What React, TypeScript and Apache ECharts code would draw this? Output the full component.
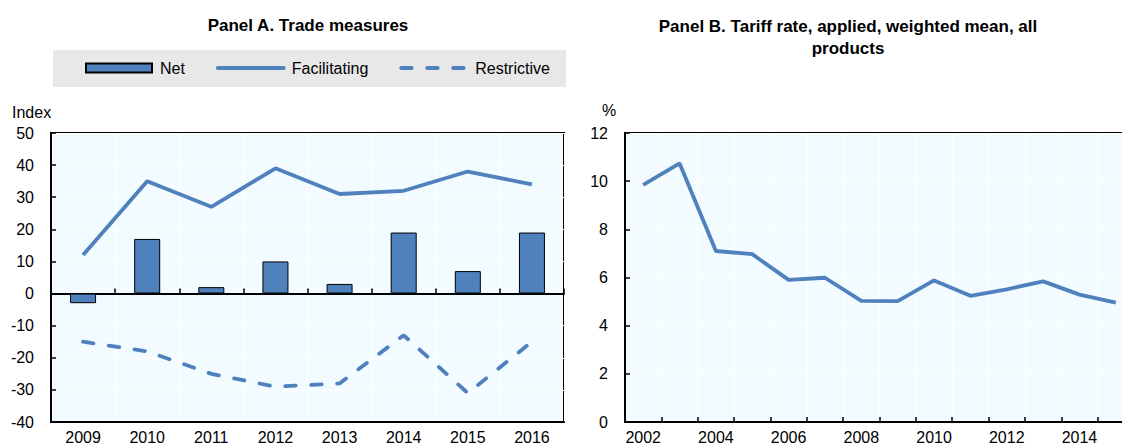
import React, { useEffect, useRef } from "react";
import * as echarts from "echarts";

const yearsA = ["2009", "2010", "2011", "2012", "2013", "2014", "2015", "2016"];
const netValues = [-3, 17, 2, 10, 3, 19, 7, 19];
const facilitatingValues = [12, 35, 27, 39, 31, 32, 38, 34];
const restrictiveValues = [-15, -18, -25, -29, -28, -13, -31, -15];

const yearsB = ["2002", "2003", "2004", "2005", "2006", "2007", "2008", "2009", "2010", "2011", "2012", "2013", "2014", "2015"];
const tariffValues = [9.85, 10.74, 7.1, 6.97, 5.9, 5.99, 5.03, 5.02, 5.88, 5.24, 5.51, 5.84, 5.29, 4.96];

const FONT = "'Liberation Sans', Arial, sans-serif";
const BLUE = "#4f81bd";
const BG = "#f2fbff";
const LINE_W = 3.8;

export default function App() {
  const ref = useRef<HTMLDivElement>(null);
  useEffect(() => {
    if (!ref.current) return;
    const chart = echarts.init(ref.current, undefined, { renderer: "svg" });
    const axisLabel = { color: "#000", fontSize: 16, fontFamily: FONT };
    const yAxisBase = {
      type: "value",
      axisLine: { show: true, lineStyle: { color: "#000", width: 2 } },
      axisTick: { show: true, inside: true, length: 5, lineStyle: { color: "#000", width: 1.5 } },
      splitLine: { show: true, lineStyle: { color: "#ffffff", width: 1 } },
      axisLabel: { ...axisLabel, margin: 17 },
    };
    chart.setOption({
      animation: false,
      textStyle: { fontFamily: FONT },
      grid: [
        { left: 51, top: 133, width: 513, height: 289, show: true, backgroundColor: BG, borderColor: "#000", borderWidth: 2 },
        { left: 625, top: 133, width: 509, height: 289, show: true, backgroundColor: BG, borderColor: "#000", borderWidth: 2 },
      ],
      legend: {
        data: [
          { name: "Net", icon: "rect" },
          { name: "Facilitating", itemStyle: { opacity: 0 } },
          { name: "Restrictive", itemStyle: { opacity: 0 } },
        ],
        left: 85,
        top: 60,
        padding: 0,
        itemWidth: 66,
        itemHeight: 9,
        itemGap: 31,
        lineStyle: { width: LINE_W, cap: "round" },
        textStyle: { color: "#000", fontSize: 16, fontFamily: FONT, padding: [0, 0, 0, 3] },
      },
      xAxis: [
        {
          type: "category",
          gridIndex: 0,
          data: yearsA,
          position: "bottom",
          axisLine: { show: true, onZero: false, lineStyle: { color: "#000", width: 2 } },
          axisTick: { show: false },
          axisLabel: { ...axisLabel, margin: 7 },
          splitLine: { show: true, interval: 0, lineStyle: { color: "#ffffff", width: 1 } },
        },
        {
          type: "category",
          gridIndex: 0,
          data: yearsA,
          position: "top",
          axisLine: { show: true, onZero: true, lineStyle: { color: "#000", width: 2 } },
          axisTick: { show: true, inside: false, length: 5, interval: 0, lineStyle: { color: "#000", width: 1.5 } },
          axisLabel: { show: false },
          splitLine: { show: false },
        },
        {
          type: "category",
          gridIndex: 1,
          data: yearsB,
          position: "bottom",
          axisLine: { show: true, onZero: false, lineStyle: { color: "#000", width: 2 } },
          axisTick: { show: true, inside: true, length: 5, interval: 0, lineStyle: { color: "#000", width: 1.5 } },
          axisLabel: { ...axisLabel, margin: 7, interval: 1 },
          splitLine: { show: true, interval: 0, lineStyle: { color: "#ffffff", width: 1 } },
        },
      ],
      yAxis: [
        { ...yAxisBase, gridIndex: 0, min: -40, max: 50, interval: 10 },
        { ...yAxisBase, gridIndex: 1, min: 0, max: 12, interval: 2 },
      ],
      series: [
        {
          name: "Net",
          type: "bar",
          xAxisIndex: 0,
          yAxisIndex: 0,
          data: netValues,
          barWidth: 26,
          itemStyle: { color: BLUE, borderColor: "#000", borderWidth: 1 },
          z: 2,
        },
        {
          name: "Facilitating",
          type: "line",
          xAxisIndex: 0,
          yAxisIndex: 0,
          data: facilitatingValues,
          symbol: "none",
          lineStyle: { color: BLUE, width: LINE_W },
          itemStyle: { color: BLUE },
          z: 3,
        },
        {
          name: "Restrictive",
          type: "line",
          xAxisIndex: 0,
          yAxisIndex: 0,
          data: restrictiveValues,
          symbol: "none",
          lineStyle: { color: BLUE, width: LINE_W, type: [10.5, 15.5], cap: "round" },
          itemStyle: { color: BLUE },
          z: 3,
        },
        {
          name: "Tariff",
          type: "line",
          xAxisIndex: 2,
          yAxisIndex: 1,
          data: tariffValues,
          symbol: "none",
          lineStyle: { color: BLUE, width: LINE_W },
          itemStyle: { color: BLUE },
          z: 3,
        },
      ],
      graphic: [
        { type: "rect", shape: { x: 53, y: 50, width: 513, height: 37 }, style: { fill: "#e8e8e8" }, z: -10, silent: true },
        {
          type: "text",
          style: { text: "Panel A. Trade measures", x: 308, y: 25, align: "center", verticalAlign: "middle", fill: "#000", font: `bold 17px ${FONT}` },
        },
        {
          type: "text",
          style: {
            text: "Panel B. Tariff rate, applied, weighted mean, all\nproducts",
            x: 848,
            y: 15,
            align: "center",
            verticalAlign: "top",
            lineHeight: 22,
            fill: "#000",
            font: `bold 17px ${FONT}`,
          },
        },
        { type: "text", style: { text: "Index", x: 12, y: 112, verticalAlign: "middle", fill: "#000", font: `16px ${FONT}` } },
        { type: "text", style: { text: "%", x: 602, y: 110, verticalAlign: "middle", fill: "#000", font: `16px ${FONT}` } },
      ],
    });
    return () => chart.dispose();
  }, []);
  return (
    <div style={{ position: "absolute", left: 0, top: 0, width: 1122, height: 446, overflow: "hidden", background: "#fff" }}>
      <div ref={ref} style={{ width: 1140, height: 446 }} />
    </div>
  );
}
